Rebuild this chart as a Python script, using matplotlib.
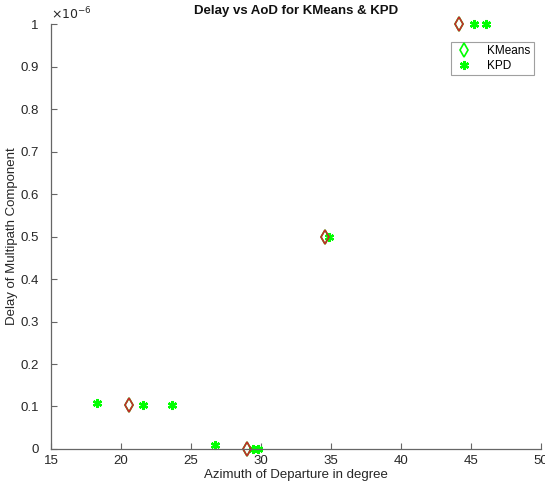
import matplotlib
matplotlib.use("Agg")
import matplotlib.pyplot as plt
from matplotlib.ticker import FuncFormatter

plt.rcParams['font.family'] = ['Liberation Sans', 'DejaVu Sans']

# True / reference components (red diamonds)
true_aod = [44.15, 34.6, 20.6, 29.0]
true_delay = [1.0e-6, 0.5e-6, 0.103e-6, 0.001e-6]

# KMeans estimates (green diamonds, hidden under the red ones)
km_aod = [44.15, 34.6, 20.6, 29.0]
km_delay = [1.0e-6, 0.5e-6, 0.103e-6, 0.001e-6]

# KPD estimates (green asterisks)
kpd_aod = [45.2, 46.05, 34.85, 18.3, 21.6, 23.65, 26.7, 29.4, 29.8]
kpd_delay = [1.0e-6, 1.0e-6, 0.5e-6, 0.109e-6, 0.104e-6, 0.104e-6, 0.0095e-6, 0.0e-6, 0.0e-6]

x_ticks = [15, 20, 25, 30, 35, 40, 45, 50]
y_ticks = [0, 0.1e-6, 0.2e-6, 0.3e-6, 0.4e-6, 0.5e-6, 0.6e-6, 0.7e-6, 0.8e-6, 0.9e-6, 1.0e-6]

fig = plt.figure(figsize=(5.45, 4.82), dpi=100)
ax = fig.add_axes([0.0936, 0.0685, 0.899, 0.8815])

green = '#00ff00'
red = '#c42a2a'
ax.plot(km_aod, km_delay, linestyle='none', marker='d', markersize=7,
        markerfacecolor='none', markeredgecolor=green, markeredgewidth=1.2,
        label='KMeans', clip_on=False)
ax.plot(kpd_aod, kpd_delay, linestyle='none', marker=(6, 2, 0), markersize=6.5,
        color=green, markeredgewidth=1.7, label='KPD', clip_on=False)
ax.plot(true_aod, true_delay, linestyle='none', marker='d', markersize=7,
        markerfacecolor='none', markeredgecolor=red, markeredgewidth=1.2,
        clip_on=False)

ax.set_xlim(15, 50)
ax.set_ylim(0, 1.0e-6)
ax.set_xticks(x_ticks)
ax.set_yticks(y_ticks)
ax.yaxis.set_major_formatter(FuncFormatter(lambda v, p: '%g' % round(v / 1e-6, 6)))

axc = '#666666'
for s in ['top', 'right']:
    ax.spines[s].set_visible(False)
for s in ['left', 'bottom']:
    ax.spines[s].set_color(axc)
    ax.spines[s].set_linewidth(0.9)
ax.tick_params(direction='in', length=4, width=0.8, colors=axc,
               labelcolor='#262626', labelsize=9.5)
ax.tick_params(axis='y', pad=9)
ax.tick_params(axis='x', pad=4)

ax.text(0.0, 1.005, r'$\times10^{-6}$', transform=ax.transAxes, fontsize=9,
        color='#262626', ha='left', va='bottom')

ax.set_xlabel('Azimuth of Departure in degree', fontsize=9.5, color='#262626')
ax.xaxis.set_label_coords(0.5, -0.046)
ax.set_ylabel('Delay of Multipath Component', fontsize=9.5, color='#262626')
ax.yaxis.set_label_coords(-0.067, 0.5)
ax.set_title('Delay vs AoD for KMeans & KPD', fontsize=9.5, fontweight='bold',
             color='#111111', pad=7)

leg = ax.legend(loc='upper right', bbox_to_anchor=(0.997, 0.972), fontsize=8.5,
                frameon=True, fancybox=False, edgecolor='#888888',
                handlelength=1.5, borderpad=0.3, labelspacing=0.2, handletextpad=1.2)
leg.get_frame().set_linewidth(0.8)

fig.savefig('out.png', dpi=100)
